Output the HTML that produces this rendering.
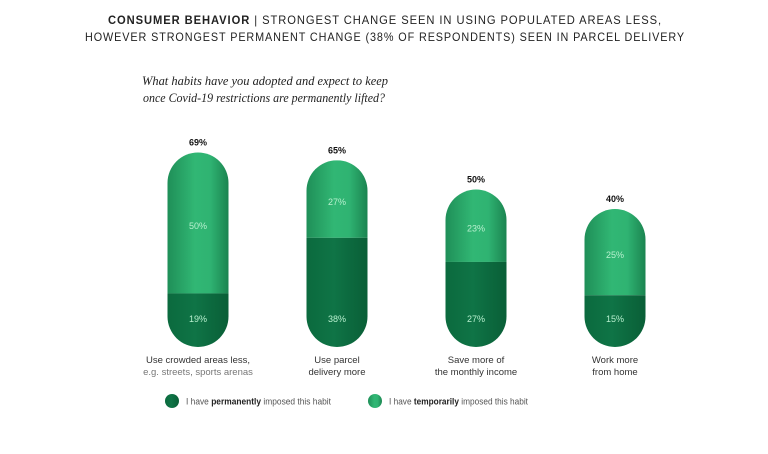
<!DOCTYPE html>
<html><head><meta charset="utf-8"><style>
body{margin:0;width:768px;height:449px;background:#fff;overflow:hidden;font-family:"Liberation Sans",sans-serif}
</style></head><body>
<svg width="768" height="449" viewBox="0 0 768 449">
<defs>
<linearGradient id="gl" x1="0" x2="1" y1="0" y2="0">
<stop offset="0" stop-color="#1f8f58"/><stop offset="0.45" stop-color="#31b774"/><stop offset="0.7" stop-color="#2fb372"/><stop offset="1" stop-color="#1b8450"/>
</linearGradient>
<linearGradient id="gd" x1="0" x2="1" y1="0" y2="0">
<stop offset="0" stop-color="#0b6a3e"/><stop offset="0.45" stop-color="#0f7446"/><stop offset="0.7" stop-color="#0c6a3f"/><stop offset="1" stop-color="#0a5f37"/>
</linearGradient>
</defs>
<text x="108" y="24" textLength="554" lengthAdjust="spacingAndGlyphs" font-size="12" letter-spacing="1" fill="#222"><tspan font-weight="bold">CONSUMER BEHAVIOR</tspan> | STRONGEST CHANGE SEEN IN USING POPULATED AREAS LESS,</text>
<text x="85" y="41" textLength="600" lengthAdjust="spacingAndGlyphs" font-size="12" letter-spacing="1" fill="#222">HOWEVER STRONGEST PERMANENT CHANGE (38% OF RESPONDENTS) SEEN IN PARCEL DELIVERY</text>
<text x="142" y="85" textLength="246" lengthAdjust="spacingAndGlyphs" font-size="13" font-style="italic" font-family="Liberation Serif,serif" fill="#222">What habits have you adopted and expect to keep</text>
<text x="143" y="102" textLength="242" lengthAdjust="spacingAndGlyphs" font-size="13" font-style="italic" font-family="Liberation Serif,serif" fill="#222">once Covid-19 restrictions are permanently lifted?</text>
<g id="bars"></g>
<g>
<circle cx="172" cy="401" r="7" fill="url(#gd)"/>
<text x="186" y="404.5" textLength="145" lengthAdjust="spacingAndGlyphs" font-size="9" fill="#555">I have <tspan font-weight="bold" fill="#222">permanently</tspan> imposed this habit</text>
<circle cx="375" cy="401" r="7" fill="url(#gl)"/>
<text x="389" y="404.5" textLength="139" lengthAdjust="spacingAndGlyphs" font-size="9" fill="#555">I have <tspan font-weight="bold" fill="#222">temporarily</tspan> imposed this habit</text>
</g>
</svg>
<script>
const categories=[["Use crowded areas less,","e.g. streets, sports arenas"],["Use parcel","delivery more"],["Save more of","the monthly income"],["Work more","from home"]];
const permanent=[19,38,27,15];
const temporary=[50,27,23,25];
const NS="http://www.w3.org/2000/svg";
const g=document.getElementById('bars');
const base=347,w=61,cx0=198,step=139;
function hOf(v){return 60+1.95*v;}
function mk(t,a){const e=document.createElementNS(NS,t);for(const k in a)e.setAttribute(k,a[k]);g.appendChild(e);return e;}
categories.forEach((c,i)=>{
 const tot=permanent[i]+temporary[i];
 const h=hOf(tot),top=base-h,split=top+h*temporary[i]/tot;
 const cx=cx0+i*step,x=cx-w/2;
 const cp=document.createElementNS(NS,'clipPath');cp.setAttribute('id','cp'+i);
 const r=document.createElementNS(NS,'rect');
 r.setAttribute('x',x);r.setAttribute('y',top);r.setAttribute('width',w);r.setAttribute('height',h);r.setAttribute('rx',w/2);
 cp.appendChild(r);g.appendChild(cp);
 const l=mk('rect',{x:x,y:top,width:w,height:split-top,fill:'url(#gl)','clip-path':'url(#cp'+i+')'});
 
 
 const d=mk('rect',{x:x,y:split,width:w,height:base-split,fill:'url(#gd)','clip-path':'url(#cp'+i+')'});
 
 
 const tl=mk('text',{x:cx,y:(top+split)/2+6,'text-anchor':'middle','font-size':9,fill:'#b8f0cf'});tl.textContent=temporary[i]+'%';
 
 
 const dl=mk('text',{x:cx,y:322,'text-anchor':'middle','font-size':9,fill:'#b8f0cf'});dl.textContent=permanent[i]+'%';
 
 
 const tt=mk('text',{x:cx,y:top-7,'text-anchor':'middle','font-size':9,'font-weight':'bold',fill:'#111'});tt.textContent=tot+'%';
 
 
 c.forEach((s,j)=>{const t=mk('text',{x:cx,y:363+j*12,'text-anchor':'middle','font-size':9.5,fill:(i==0&&j==1)?'#777':'#333'});t.textContent=s;
 
 });
});
</script>
</body></html>
